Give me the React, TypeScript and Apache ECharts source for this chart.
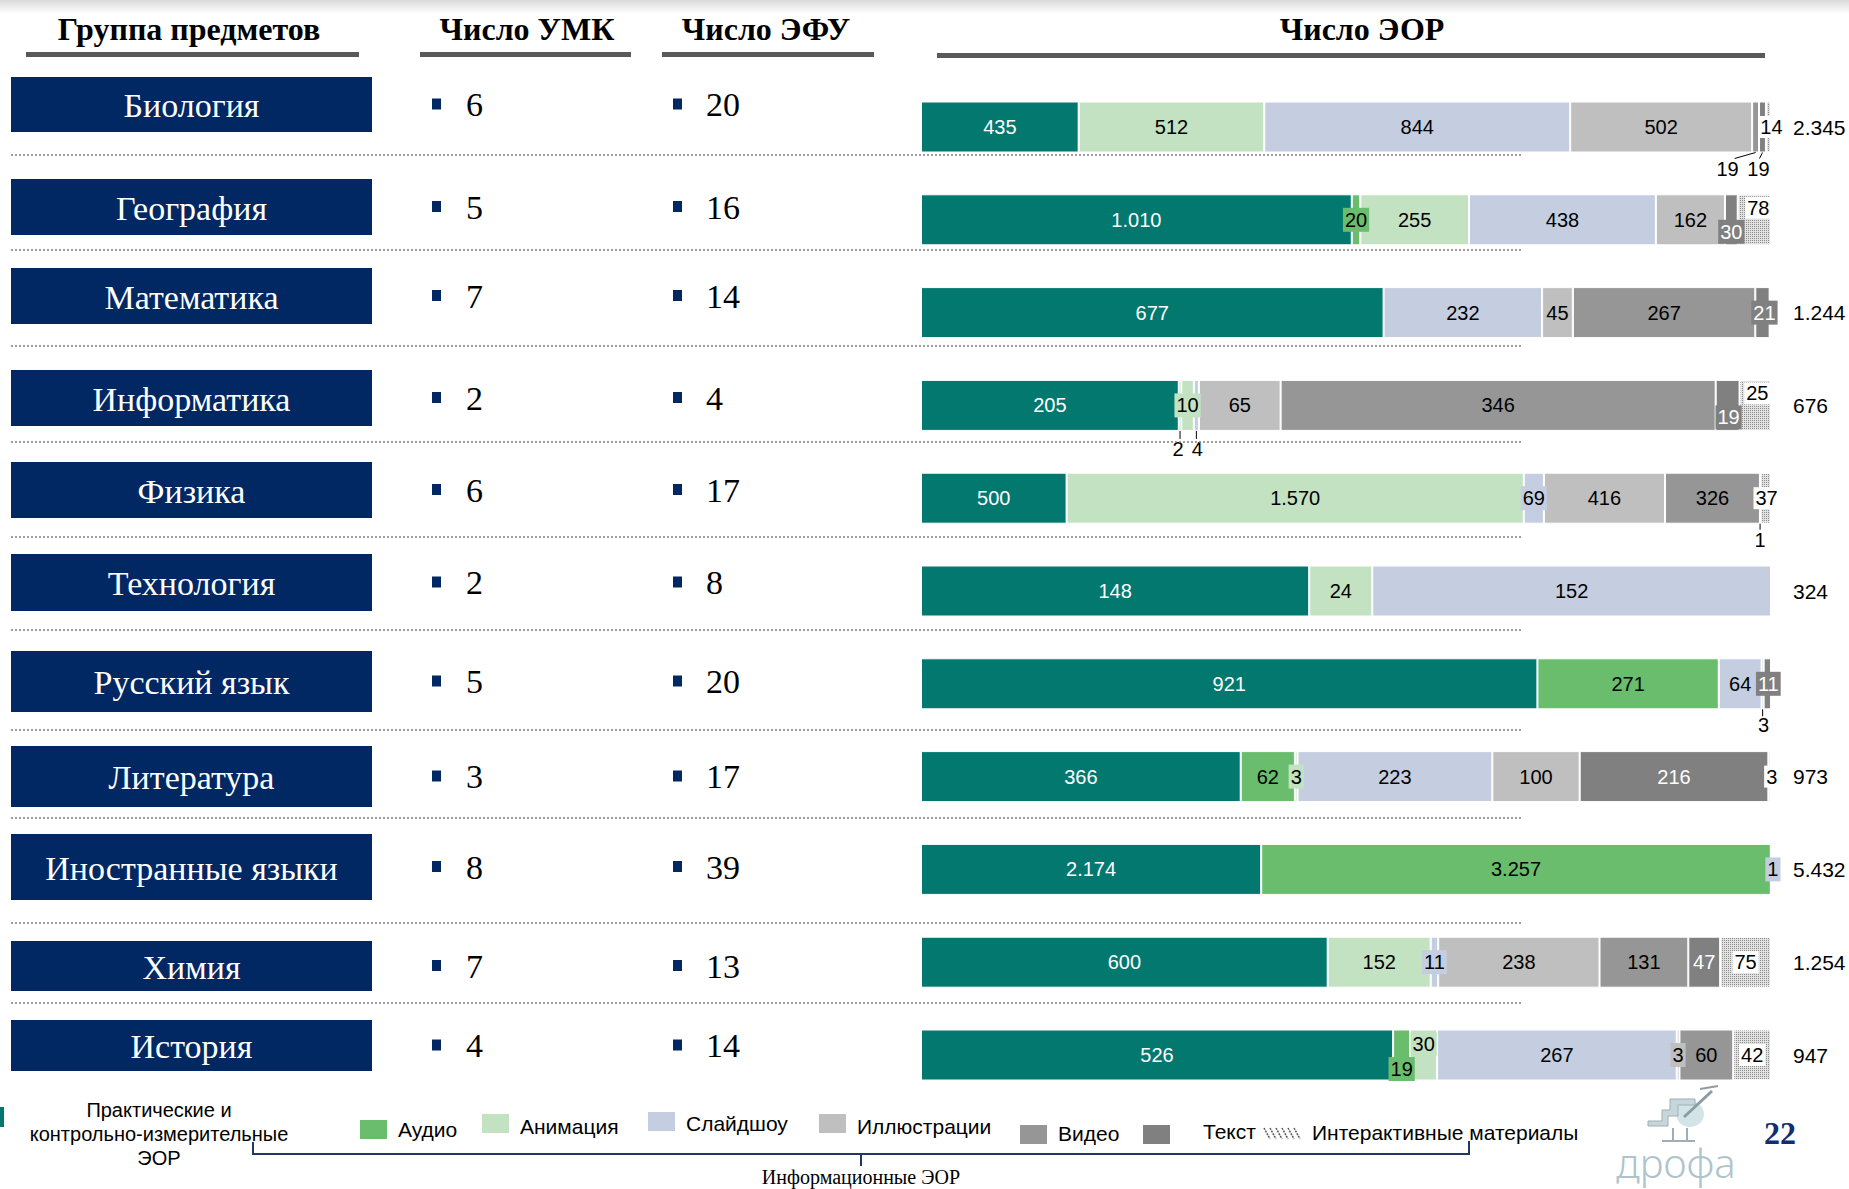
import React, { useEffect, useRef } from 'react';
import * as echarts from 'echarts';

// ---------- DATA ----------
const subjects = ['Биология', 'География', 'Математика', 'Информатика', 'Физика', 'Технология', 'Русский язык', 'Литература', 'Иностранные языки', 'Химия', 'История'];
const umkCounts = [6, 5, 7, 2, 6, 2, 5, 3, 8, 7, 4];
const efuCounts = [20, 16, 14, 4, 17, 8, 20, 17, 39, 13, 14];

const seriesNames = ['Практические и контрольно-измерительные ЭОР', 'Аудио', 'Анимация', 'Слайдшоу', 'Иллюстрации', 'Видео', 'Текст', 'Интерактивные материалы'];
const practical = [435, 1010, 677, 205, 500, 148, 921, 366, 2174, 600, 526];
const audio = [0, 20, 0, 2, 0, 0, 271, 62, 3257, 0, 19];
const animation = [512, 255, 0, 10, 1570, 24, 0, 3, 0, 152, 30];
const slideshow = [844, 438, 232, 4, 69, 152, 64, 223, 1, 11, 267];
const illustrations = [502, 162, 45, 65, 416, 0, 0, 100, 0, 238, 3];
const video = [19, 0, 267, 346, 326, 0, 3, 0, 0, 131, 60];
const textRes = [19, 30, 21, 19, 1, 0, 11, 216, 0, 47, 0];
const interactive = [14, 78, 2, 25, 37, 0, 0, 3, 0, 75, 42];

const headerLabels = ['Группа предметов', 'Число УМК', 'Число ЭФУ', 'Число ЭОР'];
const legendLeftLabel = 'Практические и\nконтрольно-измерительные\nЭОР';
const bracketLabel = 'Информационные ЭОР';
const pageNumber = '22';
const logoText = 'дрофа';

const seriesValues = [practical, audio, animation, slideshow, illustrations, video, textRes, interactive];

// ---------- STYLE / LAYOUT ----------
const TEAL = '#02786F';
const AUDIO_C = '#6BBD6E';
const ANIM_C = '#C3E2C2';
const SLIDE_C = '#C4CEE0';
const ILLUS_C = '#BFBFBF';
const VIDEO_C = '#969696';
const TEXT_C = '#808080';
const INTER_C = '#E2E2E2';
const seriesColors = [TEAL, AUDIO_C, ANIM_C, SLIDE_C, ILLUS_C, VIDEO_C, TEXT_C, INTER_C];
const labelColors = ['#fff', '#000', '#000', '#000', '#000', '#000', '#fff', '#000'];
const NAVY = '#012862';
const SERIF = '"Liberation Serif", "Times New Roman", serif';
const NARROW = '"Liberation Sans Narrow", "Arial Narrow", "Liberation Sans", Arial, sans-serif';

const boxTops = [77, 179, 268, 370, 462, 554, 651, 746, 834, 941, 1020];
const boxHeights = [55, 56, 56, 56, 56, 57, 61, 61, 66, 50, 51];
const separatorsY = [155, 250, 346, 442, 537, 630, 730, 818, 923, 1003];

type Tweak = { s: number; r: number; pos?: string; dx?: number; dy?: number; bg?: string; color?: string; hide?: boolean; leader?: [number, number] };
const labelTweaks: Tweak[] = [
  { s: 5, r: 0, pos: 'bottom', dx: -28, dy: 1, color: '#000', leader: [-21, 6] },
  { s: 6, r: 0, pos: 'bottom', dx: -4, dy: 1, color: '#000', leader: [-3, 6] },
  { s: 7, r: 0, dx: 3 },
  { s: 1, r: 1, bg: AUDIO_C },
  { s: 6, r: 1, dy: 12, bg: TEXT_C },
  { s: 7, r: 1, dx: 4, dy: -12 },
  { s: 6, r: 2, dx: 2, bg: TEXT_C },
  { s: 7, r: 2, hide: true },
  { s: 1, r: 3, pos: 'bottom', dx: -2, dy: 3, color: '#000', leader: [0, 8] },
  { s: 2, r: 3, bg: ANIM_C },
  { s: 3, r: 3, pos: 'bottom', dx: 1, dy: 3, color: '#000', leader: [0, 8] },
  { s: 6, r: 3, dx: 1, dy: 12, bg: TEXT_C },
  { s: 7, r: 3, dx: 2, dy: -12 },
  { s: 3, r: 4, bg: SLIDE_C },
  { s: 6, r: 4, pos: 'bottom', dy: 1, color: '#000', leader: [0, 6] },
  { s: 7, r: 4, dx: 1 },
  { s: 5, r: 6, pos: 'bottom', dx: 1, dy: 1, color: '#000', leader: [0, 7] },
  { s: 6, r: 6, dx: 1, bg: TEXT_C },
  { s: 2, r: 7, bg: ANIM_C },
  { s: 7, r: 7, dx: 2 },
  { s: 3, r: 8, dx: 2, bg: SLIDE_C },
  { s: 3, r: 9, bg: SLIDE_C },
  { s: 1, r: 10, dy: 14, bg: AUDIO_C },
  { s: 2, r: 10, dy: -11, bg: ANIM_C },
  { s: 4, r: 10, bg: ILLUS_C },
];

const fmt = (n: number) => (n >= 1000 ? Math.floor(n / 1000) + '.' + String(n % 1000).padStart(3, '0') : String(n));

const txt = (x: number, y: number, text: string, o: any = {}) => ({
  type: 'text',
  x,
  y,
  silent: true,
  z: o.z ?? 10,
  style: {
    text,
    fill: o.fill ?? '#000',
    fontSize: o.fontSize ?? 20,
    fontFamily: o.fontFamily ?? NARROW,
    fontWeight: o.fontWeight ?? 'normal',
    align: o.align ?? 'left',
    textAlign: o.align ?? 'left',
    verticalAlign: 'middle',
    textVerticalAlign: 'middle',
    lineHeight: o.lineHeight,
  },
});
const rect = (x: number, y: number, w: number, h: number, fill: any, o: any = {}) => ({
  type: 'rect',
  silent: true,
  z: o.z ?? 5,
  shape: { x, y, width: w, height: h },
  style: { fill, stroke: o.stroke, lineWidth: o.lineWidth },
});
const line = (x1: number, y1: number, x2: number, y2: number, stroke: string, lw = 1, dash?: number[]) => ({
  type: 'line',
  silent: true,
  z: 6,
  shape: { x1, y1, x2, y2 },
  style: { stroke, lineWidth: lw, lineDash: dash },
});

function buildStaticGraphics() {
  const g: any[] = [];
  g.push(rect(0, 0, 1849, 14, { type: 'linear', x: 0, y: 0, x2: 0, y2: 1, colorStops: [{ offset: 0, color: '#DADADA' }, { offset: 1, color: '#FFFFFF' }] }, { z: 1 }));
  // headers
  const hx = [189, 527, 766, 1362];
  headerLabels.forEach((h, i) => g.push(txt(hx[i], 29, h, { fontSize: 32, fontWeight: 'bold', fontFamily: SERIF, align: 'center' })));
  g.push(rect(26, 52, 333, 5, '#595959'));
  g.push(rect(420, 52, 211, 5, '#595959'));
  g.push(rect(662, 52, 212, 5, '#595959'));
  g.push(rect(937, 53, 828, 5, '#595959'));
  // left boxes + counts
  subjects.forEach((s, i) => {
    const cy = boxTops[i] + boxHeights[i] / 2;
    g.push(rect(11, boxTops[i], 361, boxHeights[i], NAVY));
    g.push(txt(191.5, cy + 1, s, { fontSize: 34, fontFamily: SERIF, fill: '#fff', align: 'center' }));
    g.push(rect(432, cy - 6, 9, 11, NAVY));
    g.push(txt(466, cy, String(umkCounts[i]), { fontSize: 34, fontFamily: SERIF }));
    g.push(rect(673, cy - 6, 9, 11, NAVY));
    g.push(txt(706, cy, String(efuCounts[i]), { fontSize: 34, fontFamily: SERIF }));
  });
  // separators
  separatorsY.forEach((y) => g.push(line(11, y, 1521, y, '#7F7F7F', 1.3, [2, 2])));
  // legend
  g.push(rect(0, 1107, 4, 20, TEAL));
  g.push(txt(159, 1134, legendLeftLabel, { fontSize: 20, align: 'center', lineHeight: 24 }));
  const leg: [number, number, string, string, number][] = [
    [360, 1120, AUDIO_C, seriesNames[1], 1129],
    [482, 1114, ANIM_C, seriesNames[2], 1126],
    [648, 1112, SLIDE_C, seriesNames[3], 1123],
    [819, 1114, ILLUS_C, seriesNames[4], 1126],
    [1020, 1125, VIDEO_C, seriesNames[5], 1133],
    [1143, 1125, TEXT_C, seriesNames[6], 1131],
  ];
  leg.forEach(([x, y, c, name, ty], i) => {
    g.push(rect(x, y, 27, 19, c));
    g.push(txt(x + (i === 5 ? 60 : 38), ty, name, { fontSize: 21 }));
  });
  for (let k = 0; k < 6; k++) g.push(line(1264 + k * 6, 1128, 1270 + k * 6, 1139, '#555', 1.5, [2, 1]));
  g.push(txt(1312, 1132, seriesNames[7], { fontSize: 21 }));
  // bracket
  g.push({ type: 'polyline', silent: true, z: 6, shape: { points: [[253, 1142], [253, 1154], [1469, 1154], [1469, 1141]] }, style: { stroke: '#1F3864', lineWidth: 2, fill: 'none' } });
  g.push(line(861, 1154, 861, 1166, '#1F3864', 2));
  g.push(txt(861, 1177, bracketLabel, { fontSize: 20, fontFamily: SERIF, align: 'center' }));
  // logo
  g.push({ type: 'ellipse', silent: true, z: 5, shape: { cx: 1690, cy: 1114, rx: 14, ry: 13 }, style: { fill: '#D3E4E8' } });
  g.push({ type: 'polygon', silent: true, z: 6, shape: { points: [[1648, 1121], [1662, 1121], [1662, 1110], [1670, 1110], [1670, 1099], [1695, 1099], [1695, 1105], [1678, 1105], [1678, 1116], [1668, 1116], [1668, 1126], [1648, 1126]] }, style: { fill: '#C7D6DB', stroke: '#9FAEB3', lineWidth: 1 } });
  g.push(line(1684, 1117, 1712, 1091, '#8D9CA2', 3));
  g.push(line(1700, 1089, 1718, 1086, '#8D9CA2', 2));
  g.push(line(1673, 1128, 1673, 1141, '#9FAEB3', 2));
  g.push(line(1687, 1128, 1687, 1141, '#9FAEB3', 2));
  g.push(line(1662, 1141, 1695, 1141, '#9FAEB3', 2));
  g.push(txt(1676, 1162, logoText, { fontSize: 40, fontFamily: '"Noto Sans", sans-serif', fontWeight: 300, fill: '#AFC3CC', align: 'center' }));
  g.push(txt(1780, 1133, pageNumber, { fontSize: 32, fontFamily: SERIF, fontWeight: 'bold', fill: '#0F2F6E', align: 'center' }));
  return g;
}

export default function App() {
  const ref = useRef<HTMLDivElement>(null);
  useEffect(() => {
    if (!ref.current) return;
    const chart = echarts.init(ref.current, null, { renderer: 'svg' });
    const totals = subjects.map((_, r) => seriesValues.reduce((a, arr) => a + arr[r], 0));
    const tweak = (s: number, r: number) => labelTweaks.find((t) => t.s === s && t.r === r);

    const series: any[] = seriesValues.map((vals, s) => ({
      name: seriesNames[s],
      type: 'bar',
      stack: 'eor',
      barWidth: 51,
      itemStyle: {
        color: seriesColors[s],
        borderColor: '#fff',
        borderWidth: 1,
        ...(s === 7
          ? { decal: { symbol: 'rect', symbolSize: 1, color: '#8C8C8C', backgroundColor: '#EDEDED', dashArrayX: [1, 1], dashArrayY: [1, 1], rotation: 0 } }
          : {}),
      },
      label: {
        show: true,
        position: 'inside',
        color: labelColors[s],
        fontSize: 20,
        fontFamily: NARROW,
        formatter: (p: any) => fmt(vals[p.dataIndex]),
        ...(s === 7 ? { backgroundColor: '#fff', padding: [1, 2] } : {}),
      },
      data: vals.map((v, r) => {
        const item: any = { value: (v / totals[r]) * 100 };
        const tw = tweak(s, r);
        if (v === 0 || (tw && tw.hide)) item.label = { show: false };
        else if (tw) {
          const l: any = { offset: [tw.dx ?? 0, tw.dy ?? 0] };
          if (tw.pos) l.position = tw.pos;
          if (tw.bg) {
            l.backgroundColor = tw.bg;
            l.padding = [2, 2];
          }
          if (tw.color) l.color = tw.color;
          item.label = l;
        }
        return item;
      }),
    }));
    series.push({
      name: 'Всего',
      type: 'bar',
      stack: 'eor',
      barWidth: 51,
      itemStyle: { color: 'rgba(0,0,0,0)' },
      label: { show: true, position: 'right', distance: 22, color: '#000', fontSize: 21, fontFamily: NARROW, formatter: (p: any) => fmt(totals[p.dataIndex]) },
      data: subjects.map(() => 0),
    });

    const staticG = buildStaticGraphics();
    chart.setOption({
      animation: false,
      backgroundColor: '#fff',
      grid: { left: 921, right: 78, top: 80.6, bottom: 87.6, containLabel: false },
      xAxis: { type: 'value', min: 0, max: 100, show: false },
      yAxis: { type: 'category', data: subjects, inverse: true, show: false },
      series,
      graphic: staticG,
    });

    // leader lines for outside labels, positioned by the chart's scales
    const leaders: any[] = [];
    labelTweaks.forEach((t) => {
      if (!t.leader) return;
      const vals = seriesValues[t.s];
      let before = 0;
      for (let k = 0; k < t.s; k++) before += seriesValues[k][t.r];
      const mid = ((before + vals[t.r] / 2) / totals[t.r]) * 100;
      const x = chart.convertToPixel({ xAxisIndex: 0 }, mid) as number;
      const yc = chart.convertToPixel({ yAxisIndex: 0 }, subjects[t.r]) as number;
      const yb = yc + 25.5;
      leaders.push(line(x, yb, x + t.leader[0], yb + t.leader[1], '#000', 1));
    });
    chart.setOption({ graphic: [...staticG, ...leaders] });

    return () => chart.dispose();
  }, []);
  return <div ref={ref} style={{ position: 'absolute', left: 0, top: 0, width: 1849, height: 1189 }} />;
}
